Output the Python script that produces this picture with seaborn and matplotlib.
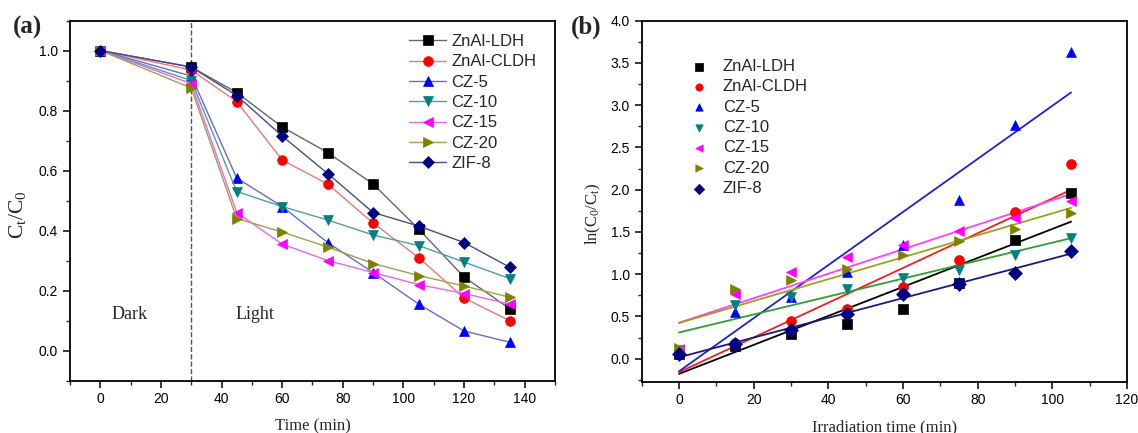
import numpy as np
import pandas as pd
import matplotlib
matplotlib.use("Agg")
import matplotlib.pyplot as plt
from matplotlib.ticker import MultipleLocator
import seaborn as sns

# Data -- panel (a): C_t/C_0 vs time
time_a = [0, 30, 45, 60, 75, 90, 105, 120, 135]
znal_ldh_a = [1.0, 0.945, 0.86, 0.745, 0.66, 0.555, 0.405, 0.245, 0.14]
znal_cldh_a = [1.0, 0.935, 0.83, 0.635, 0.555, 0.425, 0.31, 0.175, 0.10]
cz5_a = [1.0, 0.915, 0.575, 0.48, 0.36, 0.26, 0.155, 0.065, 0.028]
cz10_a = [1.0, 0.90, 0.53, 0.48, 0.435, 0.385, 0.35, 0.295, 0.24]
cz15_a = [1.0, 0.89, 0.46, 0.355, 0.30, 0.26, 0.22, 0.19, 0.155]
cz20_a = [1.0, 0.875, 0.44, 0.395, 0.345, 0.29, 0.25, 0.215, 0.178]
zif8_a = [1.0, 0.945, 0.85, 0.715, 0.59, 0.46, 0.415, 0.36, 0.278]

# Data -- panel (b): ln(C_0/C_t) vs irradiation time
time_b = [0, 15, 30, 45, 60, 75, 90, 105]
znal_ldh_b = [0.06, 0.15, 0.29, 0.41, 0.59, 0.90, 1.41, 1.96]
znal_cldh_b = [0.07, 0.18, 0.45, 0.59, 0.85, 1.17, 1.74, 2.31]
cz5_b = [0.09, 0.55, 0.73, 1.03, 1.34, 1.88, 2.76, 3.63]
cz10_b = [0.10, 0.63, 0.73, 0.83, 0.95, 1.05, 1.23, 1.43]
cz15_b = [0.12, 0.77, 1.03, 1.20, 1.34, 1.51, 1.66, 1.87]
cz20_b = [0.13, 0.82, 0.93, 1.06, 1.23, 1.39, 1.54, 1.73]
zif8_b = [0.05, 0.17, 0.34, 0.53, 0.77, 0.88, 1.02, 1.28]

labels = ["ZnAl-LDH", "ZnAl-CLDH", "CZ-5", "CZ-10", "CZ-15", "CZ-20", "ZIF-8"]
series_a = [znal_ldh_a, znal_cldh_a, cz5_a, cz10_a, cz15_a, cz20_a, zif8_a]
series_b = [znal_ldh_b, znal_cldh_b, cz5_b, cz10_b, cz15_b, cz20_b, zif8_b]

# Styling
markers = ["s", "o", "^", "v", "<", ">", "D"]
marker_colors = ["#000000", "#ff0000", "#0000ff", "#008080", "#ff00ff", "#808000", "#000080"]
line_colors_a = ["#666666", "#f07878", "#6a6ac8", "#50a0a0", "#e868e8", "#a0a050", "#4a4a90"]
fit_colors_b = ["#000000", "#ee2020", "#2020d0", "#30a030", "#ff40ff", "#a0a020", "#1a1a80"]
marker_sizes = [6.5, 7, 7.5, 7.5, 7.5, 7.5, 6]

sns.set_style("ticks")
plt.rcParams["font.family"] = ["Liberation Sans", "DejaVu Sans"]
plt.rcParams["mathtext.default"] = "regular"

SERIF = "Liberation Serif"

fig = plt.figure(figsize=(11.38, 4.33), dpi=100)
ax_a = fig.add_axes([0.0615, 0.1212, 0.4262, 0.8314])
ax_b = fig.add_axes([0.5639, 0.1189, 0.4265, 0.8333])


def style_axes(ax):
    for sp in ax.spines.values():
        sp.set_linewidth(1.3)
        sp.set_color("black")
    ax.tick_params(which="major", direction="out", length=5, width=1.1, pad=3.5,
                   labelsize=10, colors="black", top=False, right=False)
    ax.tick_params(which="minor", direction="out", length=3, width=1.0,
                   top=False, right=False)
    ax.grid(False)


# Panel (a)
for name, vals, mk, mc, lc, ms in zip(labels, series_a, markers, marker_colors,
                                      line_colors_a, marker_sizes):
    sns.lineplot(x=time_a, y=vals, ax=ax_a, color=lc, lw=1.0, marker=mk,
                 markersize=ms, markerfacecolor=mc, markeredgecolor=mc,
                 markeredgewidth=0.5, label=name, sort=False)

ax_a.axvline(30, color="#555555", ls="--", lw=1.0, zorder=0)
ax_a.set_xlim(-10, 150)
ax_a.set_ylim(-0.1, 1.1)
ax_a.xaxis.set_major_locator(MultipleLocator(20))
ax_a.xaxis.set_minor_locator(MultipleLocator(10))
ax_a.yaxis.set_minor_locator(MultipleLocator(0.1))
ax_a.set_yticks([0.0, 0.2, 0.4, 0.6, 0.8, 1.0])
ax_a.set_xlabel("Time (min)", fontfamily=SERIF, fontsize=12)
ax_a.set_ylabel(r"C$_t$/C$_0$", fontfamily=SERIF, fontsize=15.5)
ax_a.xaxis.set_label_coords(0.5, -0.104)
ax_a.yaxis.set_label_coords(-0.087, 0.46)
ax_a.text(9.6, 0.12, "Dark", fontfamily=SERIF, fontsize=13, ha="center", va="center")
ax_a.text(51, 0.12, "Light", fontfamily=SERIF, fontsize=13, ha="center", va="center")
style_axes(ax_a)
ax_a.legend(loc="upper left", bbox_to_anchor=(0.70, 0.9625), frameon=False,
            fontsize=12, handlelength=2.2, handletextpad=0.3,
            labelspacing=0.32, borderaxespad=0, borderpad=0)

# Panel (b)
for name, vals, mk, mc, fc in zip(labels, series_b, markers, marker_colors, fit_colors_b):
    sns.regplot(x=time_b, y=vals, ax=ax_b, scatter=False, ci=None,
                line_kws=dict(color=fc, lw=1.3))
    sns.scatterplot(x=time_b, y=vals, ax=ax_b, marker=mk, color=mc, s=50,
                    edgecolor=mc, linewidth=0.5, label=name, zorder=3)

ax_b.set_xlim(-10, 120)
ax_b.set_ylim(-0.27, 4.0)
ax_b.xaxis.set_major_locator(MultipleLocator(20))
ax_b.xaxis.set_minor_locator(MultipleLocator(10))
ax_b.yaxis.set_minor_locator(MultipleLocator(0.25))
ax_b.set_yticks(np.arange(0, 4.01, 0.5))
ax_b.set_xlabel("Irradiation time (min)", fontfamily=SERIF, fontsize=12)
ax_b.set_ylabel(r"ln(C$_0$/C$_t$)", fontfamily=SERIF, fontsize=12)
ax_b.xaxis.set_label_coords(0.5, -0.104)
ax_b.yaxis.set_label_coords(-0.080, 0.464)
style_axes(ax_b)
ax_b.legend(loc="upper left", bbox_to_anchor=(0.101, 0.894), frameon=False,
            fontsize=12, handlelength=1.0, handletextpad=0.92, markerscale=0.75,
            labelspacing=0.32, borderaxespad=0, borderpad=0, scatterpoints=1)

# Panel labels
fig.text(0.0112, 0.9376, "(a)", fontfamily=SERIF, fontweight="bold", fontsize=18, va="center")
fig.text(0.5018, 0.9376, "(b)", fontfamily=SERIF, fontweight="bold", fontsize=18, va="center")

fig.savefig("out.png", dpi=100)
